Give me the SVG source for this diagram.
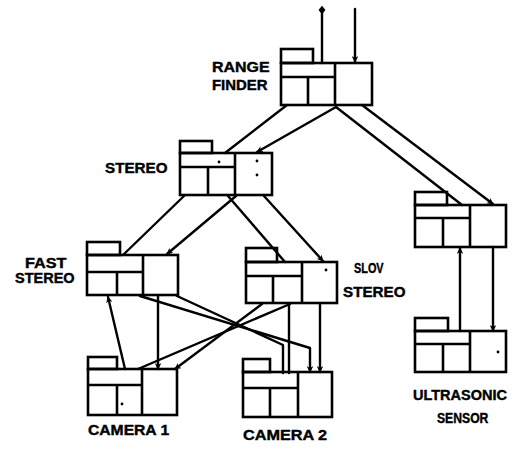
<svg xmlns="http://www.w3.org/2000/svg" width="520" height="449" viewBox="0 0 520 449">
<style>
.bx{fill:none;stroke:#000;stroke-width:2.6;stroke-linejoin:miter}
.ln{fill:none;stroke:#000;stroke-width:2.4;stroke-linecap:round;stroke-linejoin:round}
.ar{marker-end:url(#ah)}
.lb{font-family:"Liberation Sans",Arial,sans-serif;font-weight:bold;font-size:14.5px;fill:#000;stroke:#000;stroke-width:0.4}
.dt{fill:#000}
</style>
<defs>
<marker id="ah" viewBox="0 0 10 10" refX="9" refY="5" markerWidth="2.7" markerHeight="2.7" orient="auto" markerUnits="strokeWidth">
<path d="M0,0 L10,5 L0,10 L3,5 Z" fill="#000"/>
</marker>
<marker id="dm" viewBox="0 0 10 10" refX="5" refY="5" markerWidth="3.6" markerHeight="3.6" orient="auto" markerUnits="strokeWidth">
<path d="M0,5 L5,1 L10,5 L5,9 Z" fill="#000"/>
</marker>
</defs>
<rect width="520" height="449" fill="#fff"/>

<g id="connectors">
<line class="ln" x1="322" y1="63" x2="322" y2="10" marker-end="url(#dm)"/>
<line class="ln ar" x1="355" y1="9" x2="355" y2="62"/>
<line class="ln" x1="287" y1="105" x2="225" y2="153"/>
<line class="ln ar" x1="336" y1="107" x2="257" y2="152"/>
<line class="ln" x1="336" y1="107" x2="462" y2="205"/>
<line class="ln ar" x1="362" y1="105" x2="493" y2="204"/>
<line class="ln" x1="184" y1="196" x2="123" y2="255"/>
<line class="ln ar" x1="236" y1="196" x2="167" y2="254"/>
<line class="ln" x1="228" y1="196" x2="285" y2="262"/>
<line class="ln ar" x1="264" y1="196" x2="323" y2="261"/>
<line class="ln ar" x1="125" y1="369" x2="108" y2="297"/>
<line class="ln ar" x1="158" y1="296" x2="158" y2="369"/>
<polyline class="ln" points="177,296 283,345 283,373"/>
<polyline class="ln ar" points="140,296 310,348 310,372"/>
<line class="ln" x1="138" y1="369" x2="290" y2="304"/>
<line class="ln ar" x1="262" y1="304" x2="175" y2="369"/>
<line class="ln" x1="289" y1="304" x2="289" y2="373"/>
<line class="ln ar" x1="320" y1="304" x2="320" y2="372"/>
<line class="ln ar" x1="460" y1="331" x2="460" y2="248"/>
<line class="ln ar" x1="493" y1="247" x2="493" y2="331"/>
</g>

<g id="range-finder">
<rect class="bx" x="281" y="49" width="32" height="14"/>
<rect class="bx" x="281" y="63" width="91" height="42"/>
<path class="bx" d="M335,63 V105 M281,77 H335 M308,77 V105"/>
<text class="lb" transform="translate(212,72) scale(1.1,1)">RANGE</text>
<text class="lb" transform="translate(212,90) scale(1.03,1)">FINDER</text>
</g>

<g id="stereo">
<rect class="bx" x="180" y="141" width="32" height="12"/>
<rect class="bx" x="180" y="153" width="92" height="42"/>
<path class="bx" d="M235,153 V195 M180,167 H235 M208,167 V195"/>
<circle class="dt" cx="219" cy="162" r="1.4"/>
<circle class="dt" cx="257" cy="161" r="1.4"/>
<circle class="dt" cx="257" cy="175" r="1.4"/>
<text class="lb" transform="translate(105,173) scale(1.05,1)">STEREO</text>
</g>

<g id="fast-stereo">
<rect class="bx" x="87" y="242" width="33" height="13"/>
<rect class="bx" x="87" y="255" width="91" height="40"/>
<path class="bx" d="M143,255 V295 M87,272 H143 M117,272 V295"/>
<text class="lb" transform="translate(25,268) scale(1.12,1)">FAST</text>
<text class="lb" transform="translate(15,283) scale(1.0,1)">STEREO</text>
</g>

<g id="slow-stereo">
<rect class="bx" x="246" y="248" width="31" height="14"/>
<rect class="bx" x="246" y="262" width="91" height="41"/>
<path class="bx" d="M302,262 V303 M246,276 H302 M273,276 V303"/>
<circle class="dt" cx="326" cy="270" r="1.4"/>
<text class="lb" transform="translate(354,273) scale(0.75,1)">SLOV</text>
<text class="lb" transform="translate(343,297) scale(1.05,1)">STEREO</text>
</g>

<g id="camera-1">
<rect class="bx" x="88" y="357" width="29" height="12"/>
<rect class="bx" x="88" y="369" width="89" height="46"/>
<path class="bx" d="M142,369 V415 M88,385 H142 M117,385 V415"/>
<circle class="dt" cx="122" cy="404" r="1.4"/>
<text class="lb" transform="translate(88,435) scale(1.08,1)">CAMERA 1</text>
</g>

<g id="camera-2">
<rect class="bx" x="243" y="359" width="27" height="13"/>
<rect class="bx" x="243" y="372" width="89" height="45"/>
<path class="bx" d="M298,372 V417 M243,388 H298 M270,388 V417"/>
<text class="lb" transform="translate(243,440) scale(1.12,1)">CAMERA 2</text>
</g>

<g id="ultrasonic">
<rect class="bx" x="415" y="192" width="32" height="13"/>
<rect class="bx" x="415" y="205" width="91" height="42"/>
<path class="bx" d="M470,205 V247 M415,218 H470 M443,218 V247"/>
</g>

<g id="ultrasonic-sensor">
<rect class="bx" x="415" y="318" width="33" height="13"/>
<rect class="bx" x="415" y="331" width="91" height="41"/>
<path class="bx" d="M470,331 V372 M415,344 H470 M443,344 V372"/>
<circle class="dt" cx="498" cy="352" r="1.4"/>
<text class="lb" transform="translate(413,400) scale(1.0,1)">ULTRASONIC</text>
<text class="lb" transform="translate(437,423) scale(0.84,1)">SENSOR</text>
</g>
</svg>
